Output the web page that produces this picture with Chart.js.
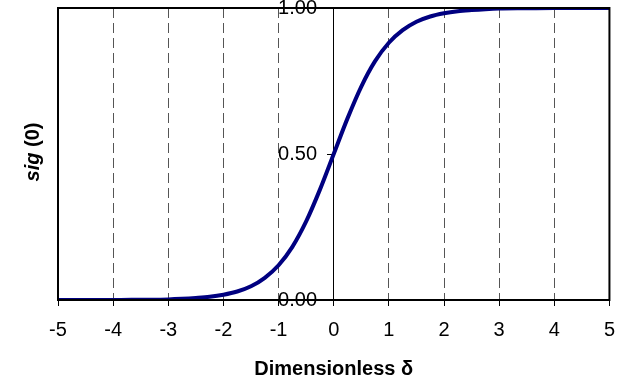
<!DOCTYPE html>
<html>
<head>
<meta charset="utf-8">
<script src="https://cdn.jsdelivr.net/npm/chart.js@4"></script>
<style>
  html, body { margin: 0; padding: 0; background: #fff; }
  #wrap { width: 627px; height: 383px; }
</style>
</head>
<body>
<div id="wrap"><canvas id="c" width="627" height="383"></canvas></div>
<script>
// values
const deltaValues = [-5, -4.5, -4, -3.5, -3, -2.75, -2.5, -2.25, -2, -1.75, -1.5, -1.25, -1, -0.75, -0.5, -0.25, 0,
                     0.25, 0.5, 0.75, 1, 1.25, 1.5, 1.75, 2, 2.25, 2.5, 2.75, 3, 3.5, 4, 4.5, 5];
const sigValues = [0.000, 0.000, 0.000, 0.001, 0.002, 0.004, 0.007, 0.011, 0.018, 0.029, 0.047, 0.076, 0.119, 0.182, 0.269, 0.378, 0.500,
                   0.622, 0.731, 0.818, 0.881, 0.924, 0.953, 0.971, 0.982, 0.989, 0.993, 0.996, 0.998, 0.999, 1.000, 1.000, 1.000];
const xTickValues = [-5, -4, -3, -2, -1, 0, 1, 2, 3, 4, 5];
const yTickValues = [0, 0.5, 1];
const xTitle = 'Dimensionless δ';
const yTitleItalic = 'sig';
const yTitleRest = ' (0)';

const FONT = '"Liberation Sans", Arial, sans-serif';

// 绘图区边框 + 左侧纵轴标题
const framePlugin = {
    id: 'frame',
    afterDraw(chart) {
        const { ctx, chartArea } = chart;
        ctx.save();
        ctx.strokeStyle = '#000';
        ctx.lineWidth = 2;
        ctx.strokeRect(chartArea.left, chartArea.top,
                       chartArea.right - chartArea.left, chartArea.bottom - chartArea.top);

        // 纵轴标题
        const cy = 152;
        ctx.translate(33, cy);
        ctx.rotate(-Math.PI / 2);
        ctx.fillStyle = '#000';
        ctx.textBaseline = 'middle';
        ctx.font = 'italic bold 20px ' + FONT;
        const w1 = ctx.measureText(yTitleItalic).width;
        ctx.font = 'bold 20px ' + FONT;
        const w2 = ctx.measureText(yTitleRest).width;
        const x0 = -(w1 + w2) / 2;
        ctx.textAlign = 'left';
        ctx.font = 'italic bold 20px ' + FONT;
        ctx.fillText(yTitleItalic, x0, 0);
        ctx.font = 'bold 20px ' + FONT;
        ctx.fillText(yTitleRest, x0 + w1, 0);
        ctx.restore();
    }
};

const points = deltaValues.map((d, i) => ({ x: d, y: sigValues[i] }));

new Chart(document.getElementById('c'), {
    type: 'line',
    data: {
        datasets: [{
            data: points,
            borderColor: '#000080',
            borderWidth: 4,
            pointRadius: 0,
            fill: false,
            cubicInterpolationMode: 'monotone'
        }]
    },
    options: {
        responsive: false,
        animation: false,
        events: [],
        layout: { padding: { left: 58, right: 17, top: 8, bottom: 2 } },
        plugins: { legend: { display: false }, tooltip: { enabled: false } },
        scales: {
            x: {
                type: 'linear',
                min: -5,
                max: 5,
                afterBuildTicks: s => { s.ticks = xTickValues.map(v => ({ value: v })); },
                ticks: {
                    color: '#000',
                    font: { family: FONT, size: 20 },
                    padding: 12,
                    maxRotation: 0
                },
                grid: {
                    color: c => ([-5, 0, 5].includes(c.tick.value) ? 'rgba(0,0,0,0)' : '#555'),
                    lineWidth: 1,
                    tickColor: '#000',
                    tickLength: 6,
                    drawTicks: true
                },
                border: { display: false, dash: [10, 5] },
                title: {
                    display: true,
                    text: xTitle,
                    color: '#000',
                    font: { family: FONT, size: 20, weight: 'bold' },
                    padding: { top: 3, bottom: 0 }
                }
            },
            y: {
                type: 'linear',
                position: { x: 0 },
                min: 0,
                max: 1,
                afterBuildTicks: s => { s.ticks = yTickValues.map(v => ({ value: v })); },
                afterFit: s => { s.paddingTop = 0; s.paddingBottom = 0; },
                ticks: {
                    color: '#000',
                    font: { family: FONT, size: 20 },
                    padding: 0,
                    // 标签放在纵轴左侧，留出刻度线的空隙
                    callback: v => v.toFixed(2) + '   '
                },
                grid: {
                    drawOnChartArea: false,
                    tickColor: '#000',
                    tickLength: 6
                },
                border: { display: true, color: '#000', width: 1 }
            }
        }
    },
    plugins: [framePlugin]
});
</script>
</body>
</html>
